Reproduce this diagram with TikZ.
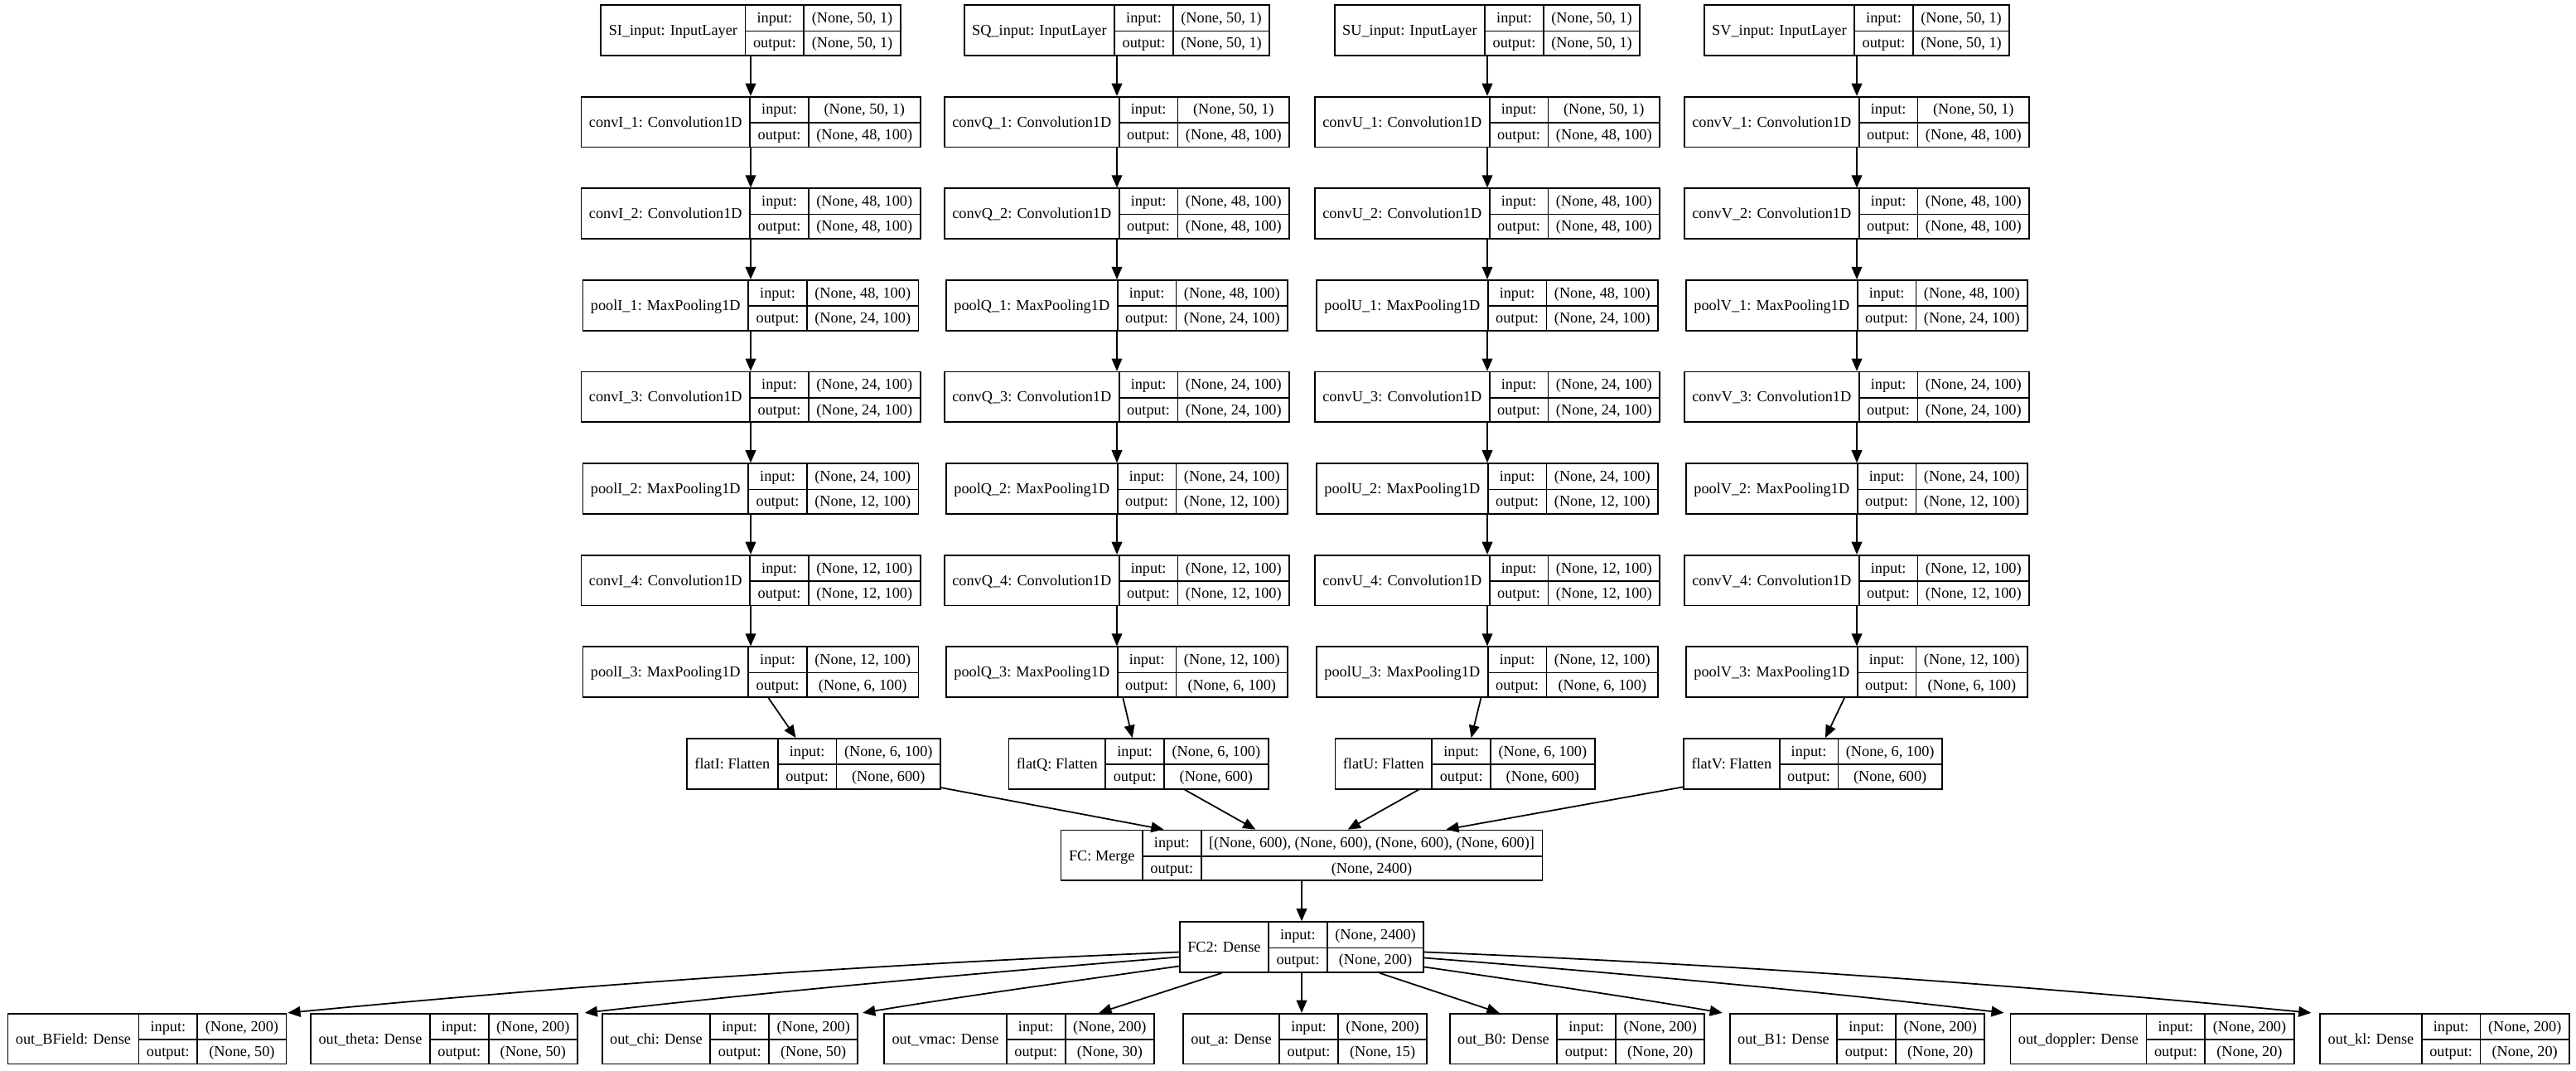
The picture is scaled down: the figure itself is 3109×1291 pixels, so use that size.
\documentclass[tikz,border=0pt]{standalone}
\usepackage{fontspec}
\setmainfont{Liberation Serif}
\usepackage{multirow}
\usetikzlibrary{arrows.meta,calc}
\setlength{\arrayrulewidth}{0.5pt}
\setlength{\tabcolsep}{2.7pt}

\tikzset{
  layerbox/.style={draw, line width=0.5pt, inner sep=0pt, fill=white,
    font=\fontsize{5.2}{8.65}\selectfont},
  conn/.style={line width=0.5pt, -{Triangle[length=4.3pt,width=3.6pt]}}
}

% one Keras layer record: name, x, y, label, input shape, output shape
\newcommand\kerasLayer[6]{%
  \node[layerbox] (#1) at (#2,#3)
    {\begin{tabular}{c|c|c}\multirow{2}{*}{#4} & input: & #5\\ \cline{2-3} & output: & #6\end{tabular}};}

% one convolutional branch: letter, column x, flatten x
\newcommand\convBranch[3]{%
  \kerasLayer{in#1}{#2}{36.5}{S#1\_input: InputLayer}{(None, 50, 1)}{(None, 50, 1)}
  \kerasLayer{conv#1x1}{#2}{147.1}{conv#1\_1: Convolution1D}{(None, 50, 1)}{(None, 48, 100)}
  \kerasLayer{conv#1x2}{#2}{257.7}{conv#1\_2: Convolution1D}{(None, 48, 100)}{(None, 48, 100)}
  \kerasLayer{pool#1x1}{#2}{368.3}{pool#1\_1: MaxPooling1D}{(None, 48, 100)}{(None, 24, 100)}
  \kerasLayer{conv#1x3}{#2}{478.9}{conv#1\_3: Convolution1D}{(None, 24, 100)}{(None, 24, 100)}
  \kerasLayer{pool#1x2}{#2}{589.5}{pool#1\_2: MaxPooling1D}{(None, 24, 100)}{(None, 12, 100)}
  \kerasLayer{conv#1x4}{#2}{700.1}{conv#1\_4: Convolution1D}{(None, 12, 100)}{(None, 12, 100)}
  \kerasLayer{pool#1x3}{#2}{810.7}{pool#1\_3: MaxPooling1D}{(None, 12, 100)}{(None, 6, 100)}
  \kerasLayer{flat#1}{#3}{921.3}{flat#1: Flatten}{(None, 6, 100)}{(None, 600)}
  \draw[conn] (in#1) -- (conv#1x1);
  \draw[conn] (conv#1x1) -- (conv#1x2);
  \draw[conn] (conv#1x2) -- (pool#1x1);
  \draw[conn] (pool#1x1) -- (conv#1x3);
  \draw[conn] (conv#1x3) -- (pool#1x2);
  \draw[conn] (pool#1x2) -- (conv#1x4);
  \draw[conn] (conv#1x4) -- (pool#1x3);
  \draw[conn] (pool#1x3) -- (flat#1);
}

\begin{document}
\begin{tikzpicture}[x=0.1mm, y=-0.1mm]
\useasboundingbox (0,0) rectangle (3109,1291);

\convBranch{I}{906}{982}
\convBranch{Q}{1348}{1374}
\convBranch{U}{1795}{1768}
\convBranch{V}{2241}{2188}

\kerasLayer{FC}{1571}{1031.9}{FC: Merge}{[(None, 600), (None, 600), (None, 600), (None, 600)]}{(None, 2400)}
\kerasLayer{FCtwo}{1571}{1142.5}{FC2: Dense}{(None, 2400)}{(None, 200)}

\kerasLayer{oBField}{177.5}{1253.1}{out\_BField: Dense}{(None, 200)}{(None, 50)}
\kerasLayer{otheta}{536}{1253.1}{out\_theta: Dense}{(None, 200)}{(None, 50)}
\kerasLayer{ochi}{881}{1253.1}{out\_chi: Dense}{(None, 200)}{(None, 50)}
\kerasLayer{ovmac}{1230}{1253.1}{out\_vmac: Dense}{(None, 200)}{(None, 30)}
\kerasLayer{oa}{1575}{1253.1}{out\_a: Dense}{(None, 200)}{(None, 15)}
\kerasLayer{oBzero}{1903.5}{1253.1}{out\_B0: Dense}{(None, 200)}{(None, 20)}
\kerasLayer{oBone}{2241.5}{1253.1}{out\_B1: Dense}{(None, 200)}{(None, 20)}
\kerasLayer{odoppler}{2597.5}{1253.1}{out\_doppler: Dense}{(None, 200)}{(None, 20)}
\kerasLayer{okl}{2950.5}{1253.1}{out\_kl: Dense}{(None, 200)}{(None, 20)}

% merge of the four branches
\foreach \b in {I,Q,U,V} \draw[conn] (flat\b) -- (FC);
\draw[conn] (FC) -- (FCtwo);

% fan-out of the dense head
\draw[conn] ($(FCtwo.west)+(0,6)$) .. controls +(-357,14) and +(357,-34) .. ($(oBField.north east)+(1,0)$);
\draw[conn] ($(FCtwo.west)+(0,12)$) .. controls +(-238,19) and +(238,-27) .. ($(otheta.north east)+(8,0)$);
\draw[conn] ($(FCtwo.west)+(0,23)$) .. controls +(-126,18) and +(126,-21) .. ($(ochi.north east)+(5,0)$);
\draw[conn] (FCtwo) -- (ovmac);
\draw[conn] (FCtwo.south) -- (FCtwo.south |- oa.north);
\draw[conn] (FCtwo) -- (oBzero);
\draw[conn] ($(FCtwo.east)+(0,24)$) .. controls +(118,17) and +(-118,-20) .. ($(oBone.north west)+(-8,0)$);
\draw[conn] ($(FCtwo.east)+(0,13)$) .. controls +(231,18) and +(-231,-27) .. ($(odoppler.north west)+(-7,0)$);
\draw[conn] ($(FCtwo.east)+(0,6)$) .. controls +(355,14) and +(-355,-34) .. ($(okl.north west)+(-10,0)$);
\end{tikzpicture}
\end{document}
